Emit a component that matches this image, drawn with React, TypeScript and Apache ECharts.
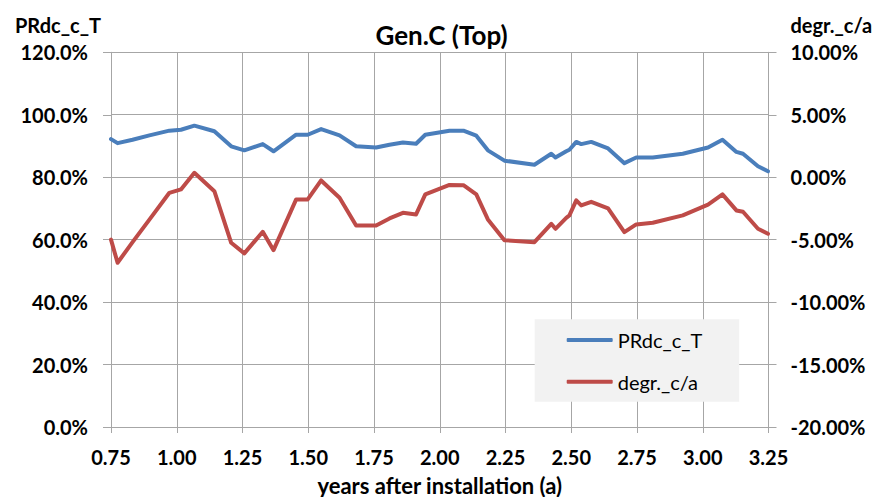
import React, { useEffect, useRef } from "react";
import * as echarts from "echarts";

const years = [
  0.75, 0.775, 0.832, 0.896, 0.972, 1.016, 1.067, 1.143, 1.207, 1.257, 1.327, 1.368,
  1.454, 1.498, 1.549, 1.619, 1.682, 1.758, 1.809, 1.86, 1.91, 1.945, 2.037, 2.09,
  2.139, 2.183, 2.246, 2.36, 2.424, 2.44, 2.481, 2.493, 2.519, 2.538, 2.576, 2.64,
  2.702, 2.747, 2.81, 2.924, 3.02, 3.075, 3.128, 3.153, 3.21, 3.248,
];
const prdcValues = [
  92.2, 90.9, 92.0, 93.4, 94.9, 95.2, 96.5, 94.7, 89.9, 88.6, 90.6, 88.3,
  93.6, 93.6, 95.4, 93.4, 89.9, 89.5, 90.4, 91.1, 90.7, 93.6, 94.9, 94.9,
  93.3, 88.6, 85.3, 84.0, 87.5, 86.3, 88.3, 88.8, 91.3, 90.6, 91.3, 89.2,
  84.5, 86.3, 86.3, 87.5, 89.5, 92.0, 88.1, 87.5, 83.5, 81.9,
];
const degrValues = [
  -5.0, -6.85, -5.2, -3.4, -1.25, -0.98, 0.35, -1.12, -5.25, -6.1, -4.37, -5.84,
  -1.78, -1.78, -0.26, -1.65, -3.86, -3.86, -3.3, -2.85, -2.98, -1.38, -0.62, -0.64,
  -1.38, -3.38, -5.04, -5.2, -3.73, -4.13, -3.25, -3.06, -1.86, -2.26, -1.97, -2.5,
  -4.4, -3.78, -3.65, -3.06, -2.2, -1.38, -2.66, -2.77, -4.13, -4.53,
];
const seriesNames = ["PRdc_c_T", "degr._c/a"];
const titleText = "Gen.C (Top)";
const xAxisName = "years after installation (a)";

const FONT = "Lato, 'Noto Sans', sans-serif";
const GRID = "#a6a6a6";

export default function App() {
  const ref = useRef<HTMLDivElement>(null);
  useEffect(() => {
    if (!ref.current) return;
    const chart = echarts.init(ref.current, null, { renderer: "svg" });
    chart.setOption({
      animation: false,
      backgroundColor: "#ffffff",
      textStyle: { fontFamily: FONT },
      title: {
        text: titleText,
        left: "center",
        top: 17,
        textStyle: { fontFamily: FONT, fontSize: 26, fontWeight: "bold", color: "#000" },
      },
      grid: {
        left: 111,
        right: 114.5,
        top: 52.3,
        bottom: 70,
        containLabel: false,
        outerBoundsMode: "none",
      },
      legend: {
        orient: "vertical",
        left: 534.7,
        top: 319.3,
        backgroundColor: "#f2f2f2",
        padding: [10.7, 37, 10, 32],
        itemGap: 21.7,
        itemWidth: 46,
        itemHeight: 4,
        icon: "roundRect",
        textStyle: { fontFamily: FONT, fontSize: 20, lineHeight: 20, color: "#000" },
        data: seriesNames,
      },
      xAxis: {
        type: "value",
        min: 0.75,
        max: 3.25,
        interval: 0.25,
        name: xAxisName,
        nameLocation: "middle",
        nameGap: 47,
        nameTextStyle: { fontFamily: FONT, fontSize: 22, fontWeight: "bold", color: "#000" },
        axisLine: { show: true, lineStyle: { color: GRID } },
        axisTick: { show: true, length: 6, lineStyle: { color: GRID } },
        splitLine: { show: true, lineStyle: { color: GRID } },
        axisLabel: {
          margin: 20,
          fontFamily: FONT,
          fontSize: 20,
          fontWeight: "bold",
          color: "#000",
          formatter: (v: number) => v.toFixed(2),
        },
      },
      yAxis: [
        {
          type: "value",
          min: 0,
          max: 120,
          interval: 20,
          name: seriesNames[0],
          nameLocation: "end",
          nameGap: 17,
          nameTextStyle: {
            fontFamily: FONT,
            fontSize: 20,
            fontWeight: "bold",
            color: "#000",
            align: "right",
            padding: [0, 10, 0, 0],
          },
          axisLine: { show: true, lineStyle: { color: GRID } },
          axisTick: { show: true, length: 8, lineStyle: { color: GRID } },
          splitLine: { show: true, lineStyle: { color: GRID } },
          axisLabel: {
            margin: 23,
            fontFamily: FONT,
            fontSize: 20,
            fontWeight: "bold",
            color: "#000",
            padding: [4, 0, 0, 0],
            formatter: (v: number) => v.toFixed(1) + "%",
          },
        },
        {
          type: "value",
          min: -20,
          max: 10,
          interval: 5,
          position: "right",
          name: seriesNames[1],
          nameLocation: "end",
          nameGap: 17,
          nameTextStyle: {
            fontFamily: FONT,
            fontSize: 20,
            fontWeight: "bold",
            color: "#000",
            align: "left",
            padding: [0, 0, 0, 22],
          },
          axisLine: { show: true, lineStyle: { color: GRID } },
          axisTick: { show: true, length: 8, lineStyle: { color: GRID } },
          splitLine: { show: false },
          axisLabel: {
            margin: 22,
            fontFamily: FONT,
            fontSize: 20,
            fontWeight: "bold",
            color: "#000",
            padding: [4, 0, 0, 0],
            formatter: (v: number) => v.toFixed(2) + "%",
          },
        },
      ],
      series: [
        {
          name: seriesNames[0],
          type: "line",
          yAxisIndex: 0,
          showSymbol: false,
          symbol: "none",
          color: "#4a7ebb",
          lineStyle: { width: 4, color: "#4a7ebb", cap: "round", join: "round" },
          data: years.map((x, i) => [x, prdcValues[i]]),
        },
        {
          name: seriesNames[1],
          type: "line",
          yAxisIndex: 1,
          showSymbol: false,
          symbol: "none",
          color: "#be4b48",
          lineStyle: { width: 4, color: "#be4b48", cap: "round", join: "round" },
          data: years.map((x, i) => [x, degrValues[i]]),
        },
      ],
    });
    return () => chart.dispose();
  }, []);
  return (
    <div
      ref={ref}
      style={{ position: "absolute", left: 0, top: 0, width: 883, height: 497 }}
    />
  );
}
